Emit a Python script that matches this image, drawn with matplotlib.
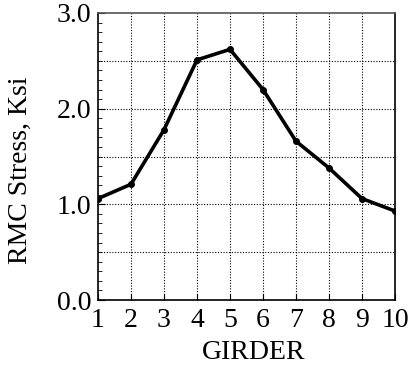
import matplotlib
matplotlib.use("Agg")
import matplotlib.pyplot as plt
from matplotlib.ticker import MultipleLocator

girder = [1, 2, 3, 4, 5, 6, 7, 8, 9, 10]
stress = [1.06, 1.21, 1.78, 2.51, 2.62, 2.20, 1.66, 1.38, 1.06, 0.93]

plt.rcParams['font.family'] = ['Liberation Serif', 'DejaVu Serif']

fig = plt.figure(figsize=(4.18, 3.66), dpi=100)
ax = fig.add_axes([98/418, 66/366, 297/418, 287/366])

ax.plot(girder, stress, color='black', lw=2.6, marker='o', ms=4)

ax.set_xlim(1, 10)
ax.set_ylim(0, 3.0)
ax.set_xticks(girder)
ax.set_yticks([0.0, 1.0, 2.0, 3.0])
ax.set_yticklabels(['0.0', '1.0', '2.0', '3.0'])
ax.yaxis.set_minor_locator(MultipleLocator(0.1))

# gridlines every 0.5 on y, every girder on x
for y in [0.5, 1.0, 1.5, 2.0, 2.5]:
    ax.axhline(y, color='black', lw=0.8, ls=(0, (1, 1.5)))
for x in girder[1:-1]:
    ax.axvline(x, color='black', lw=0.8, ls=(0, (1, 1.5)))

ax.tick_params(axis='both', which='major', direction='in', length=5, labelsize=20)
ax.tick_params(axis='y', which='major', pad=5)
ax.tick_params(axis='y', which='minor', direction='in', length=3)
ax.tick_params(axis='x', which='major', length=4, pad=6)
for s in ax.spines.values():
    s.set_linewidth(1.2)
ax.spines['top'].set_color('#555555')

ax.set_xlabel('GIRDER', fontsize=20, labelpad=5)
ax.set_ylabel('RMC Stress, Ksi', fontsize=20, labelpad=17)
ax.xaxis.label.set_x(0.525)
ax.yaxis.label.set_y(0.453)

fig.savefig('out.png', dpi=100)
